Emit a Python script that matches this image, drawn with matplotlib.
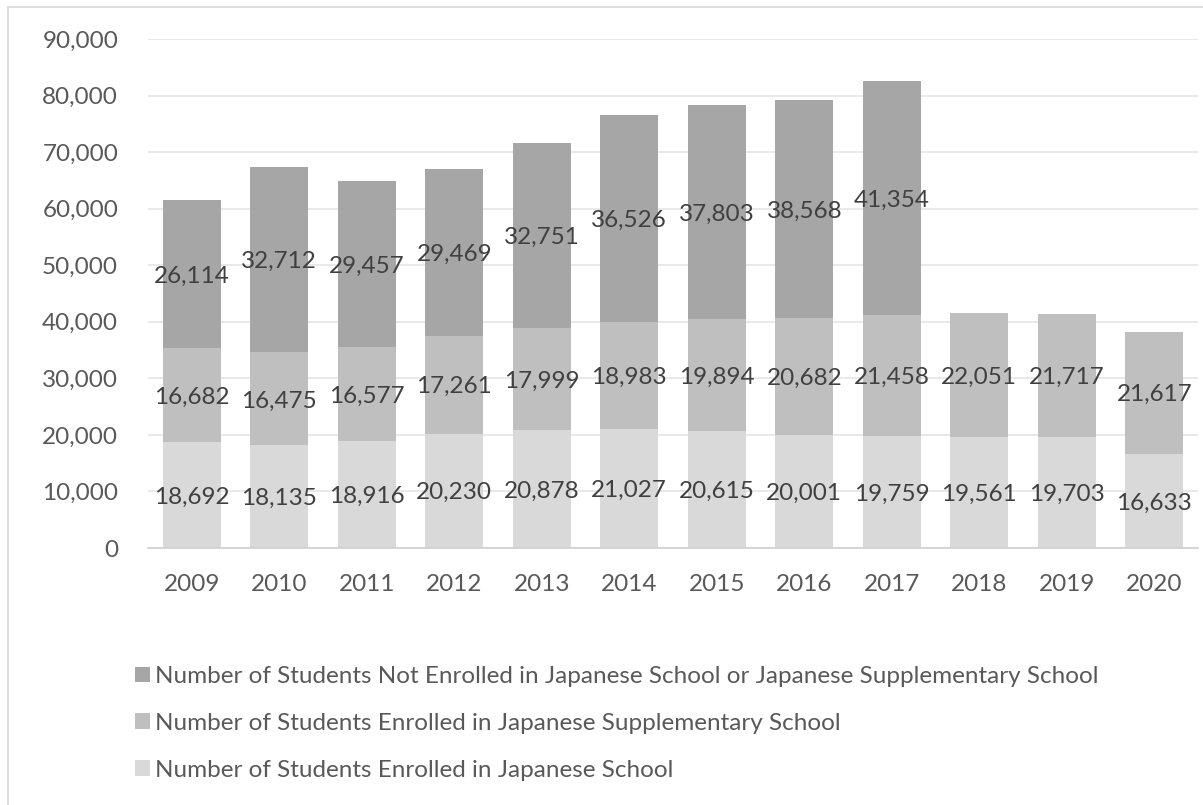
import matplotlib.pyplot as plt
from matplotlib.patches import Rectangle
import numpy as np

plt.rcParams['font.family'] = ['Lato', 'DejaVu Sans']

years = ['2009', '2010', '2011', '2012', '2013', '2014', '2015', '2016',
         '2017', '2018', '2019', '2020']
japanese_school = [18692, 18135, 18916, 20230, 20878, 21027, 20615, 20001,
                   19759, 19561, 19703, 16633]
supplementary = [16682, 16475, 16577, 17261, 17999, 18983, 19894, 20682,
                 21458, 22051, 21717, 21617]
not_enrolled = [26114, 32712, 29457, 29469, 32751, 36526, 37803, 38568,
                41354, None, None, None]

labels = ['Number of Students Enrolled in Japanese School',
          'Number of Students Enrolled in Japanese Supplementary School',
          'Number of Students Not Enrolled in Japanese School or Japanese Supplementary School']
colors = ['#d9d9d9', '#bfbfbf', '#a6a6a6']
fs = 17.5

fig = plt.figure(figsize=(12.03, 8.05), dpi=100)
ax = fig.add_axes([148 / 1203, 1 - 548 / 805, 1050 / 1203, 509 / 805])

x = np.arange(len(years))
width = 0.66
series = [japanese_school, supplementary, not_enrolled]
bottom = np.zeros(len(years))
handles = []
for vals, lab, col in zip(series, labels, colors):
    v = np.array([np.nan if a is None else a for a in vals], dtype=float)
    h = ax.bar(x, np.nan_to_num(v), width, bottom=bottom, color=col, label=lab, zorder=2)
    handles.append(h)
    for xi, b, val in zip(x, bottom, v):
        if not np.isnan(val):
            ax.text(xi, b + val / 2, f'{int(val):,}', ha='center', va='center_baseline',
                    fontsize=fs, color='#404040', zorder=3)
    bottom = bottom + np.nan_to_num(v)

ax.set_xlim(-0.5, len(years) - 0.5)
ax.set_ylim(0, 90000)
ax.set_yticks(np.arange(0, 90001, 10000))
ax.set_yticklabels([f'{t:,}' for t in range(0, 90001, 10000)])
ax.set_xticks(x)
ax.set_xticklabels(years)
ax.tick_params(axis='both', length=0, labelsize=fs, labelcolor='#595959')
ax.tick_params(axis='y', pad=21.5)
ax.tick_params(axis='x', pad=19)
ax.grid(axis='y', color='#e5e5e5', linewidth=1.2, zorder=0)
for s in ['top', 'right', 'left']:
    ax.spines[s].set_visible(False)
ax.spines['bottom'].set_color('#d0d0d0')
ax.spines['bottom'].set_linewidth(1.2)

leg = fig.legend(handles[::-1], labels[::-1], loc='upper left',
                 bbox_to_anchor=(135 / 1203, 1 - 666 / 805), frameon=False,
                 fontsize=fs, labelcolor='#595959', handlelength=0.62,
                 handleheight=0.62, handletextpad=0.22, labelspacing=1.06,
                 borderpad=0, borderaxespad=0)

fig.patches.append(Rectangle((8 / 1203, -0.1), 1.2, 1.1 - 7 / 805, transform=fig.transFigure,
                             fill=False, edgecolor='#d9d9d9', linewidth=1.2))

fig.savefig('out.png', dpi=100)
